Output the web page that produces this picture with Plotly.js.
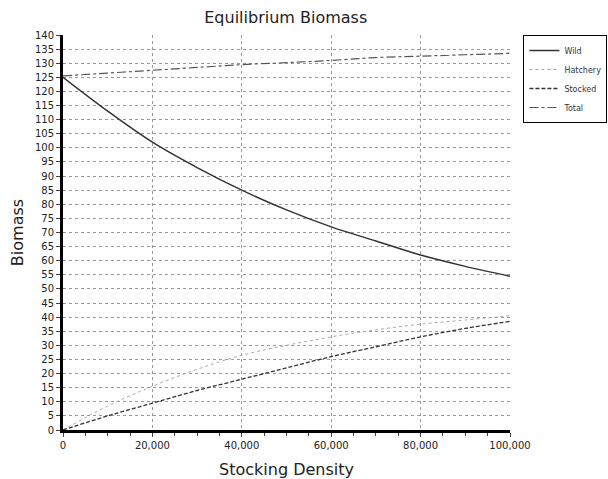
<!DOCTYPE html>
<html>
<head>
<script src="https://cdn.plot.ly/plotly-3.0.1.min.js"></script>
<style>body{margin:0;background:#fff}</style>
</head>
<body>
<div id="chart" style="width:608px;height:479px"></div>
<script>
var density = [0, 10000, 20000, 30000, 40000, 50000, 60000, 70000, 80000, 90000, 100000];
var wild = [125, 113, 102, 93, 85, 78, 72, 67, 62, 58, 54.5];
var hatchery = [0, 8.5, 15.5, 21.5, 26.5, 30, 33, 35.5, 37.5, 39, 40.5];
var stocked = [0, 5, 9.5, 14, 18, 22, 26, 29.5, 33, 36, 38.5];
var total = [125.5, 126.5, 127.5, 128.5, 129.5, 130.2, 131, 132, 132.5, 133, 133.5];

var traces = [
    {x: density, y: wild, name: 'Wild', mode: 'lines', line: {color: '#333', width: 1.5, shape: 'spline'}},
    {x: density, y: hatchery, name: 'Hatchery', mode: 'lines', line: {color: '#aaa', width: 1, dash: 'dot', shape: 'spline'}},
    {x: density, y: stocked, name: 'Stocked', mode: 'lines', line: {color: '#333', width: 1.3, dash: '4px,2px', shape: 'spline'}},
    {x: density, y: total, name: 'Total', mode: 'lines', line: {color: '#555', width: 1.2, dash: 'dashdot', shape: 'spline'}}
];

var layout = {
    width: 608, height: 479,
    margin: {l: 63, r: 98, t: 35, b: 49, autoexpand: false},
    paper_bgcolor: '#fff', plot_bgcolor: '#fff',
    font: {family: 'DejaVu Sans', color: '#222'},
    title: {text: 'Equilibrium Biomass', font: {size: 16}, x: 0.47, y: 0.975},
    xaxis: {
        range: [0, 100000], tickvals: [0, 20000, 40000, 60000, 80000, 100000],
        ticktext: ['0', '20,000', '40,000', '60,000', '80,000', '100,000'],
        tickfont: {size: 10}, showgrid: true, gridcolor: '#999', griddash: 'dot',
        showline: true, linecolor: '#000', linewidth: 3, ticks: 'outside', ticklen: 4,
        minor: {dtick: 5000, ticks: 'outside', ticklen: 3, showgrid: false},
        zeroline: false,
        title: {text: 'Stocking Density', font: {size: 16}}
    },
    yaxis: {
        range: [0, 140], dtick: 5, tickfont: {size: 10},
        showgrid: true, gridcolor: '#999', griddash: 'dot',
        showline: true, linecolor: '#000', linewidth: 3, ticks: 'outside', ticklen: 4,
        zeroline: false,
        title: {text: 'Biomass', font: {size: 16}, standoff: 8}
    },
    legend: {x: 1.03, y: 1.0, xanchor: 'left', yanchor: 'top', bordercolor: '#000', borderwidth: 1,
             font: {size: 8, color: '#334'}, tracegroupgap: 0, itemwidth: 30}
};

Plotly.newPlot('chart', traces, layout, {displayModeBar: false});
</script>
</body>
</html>
